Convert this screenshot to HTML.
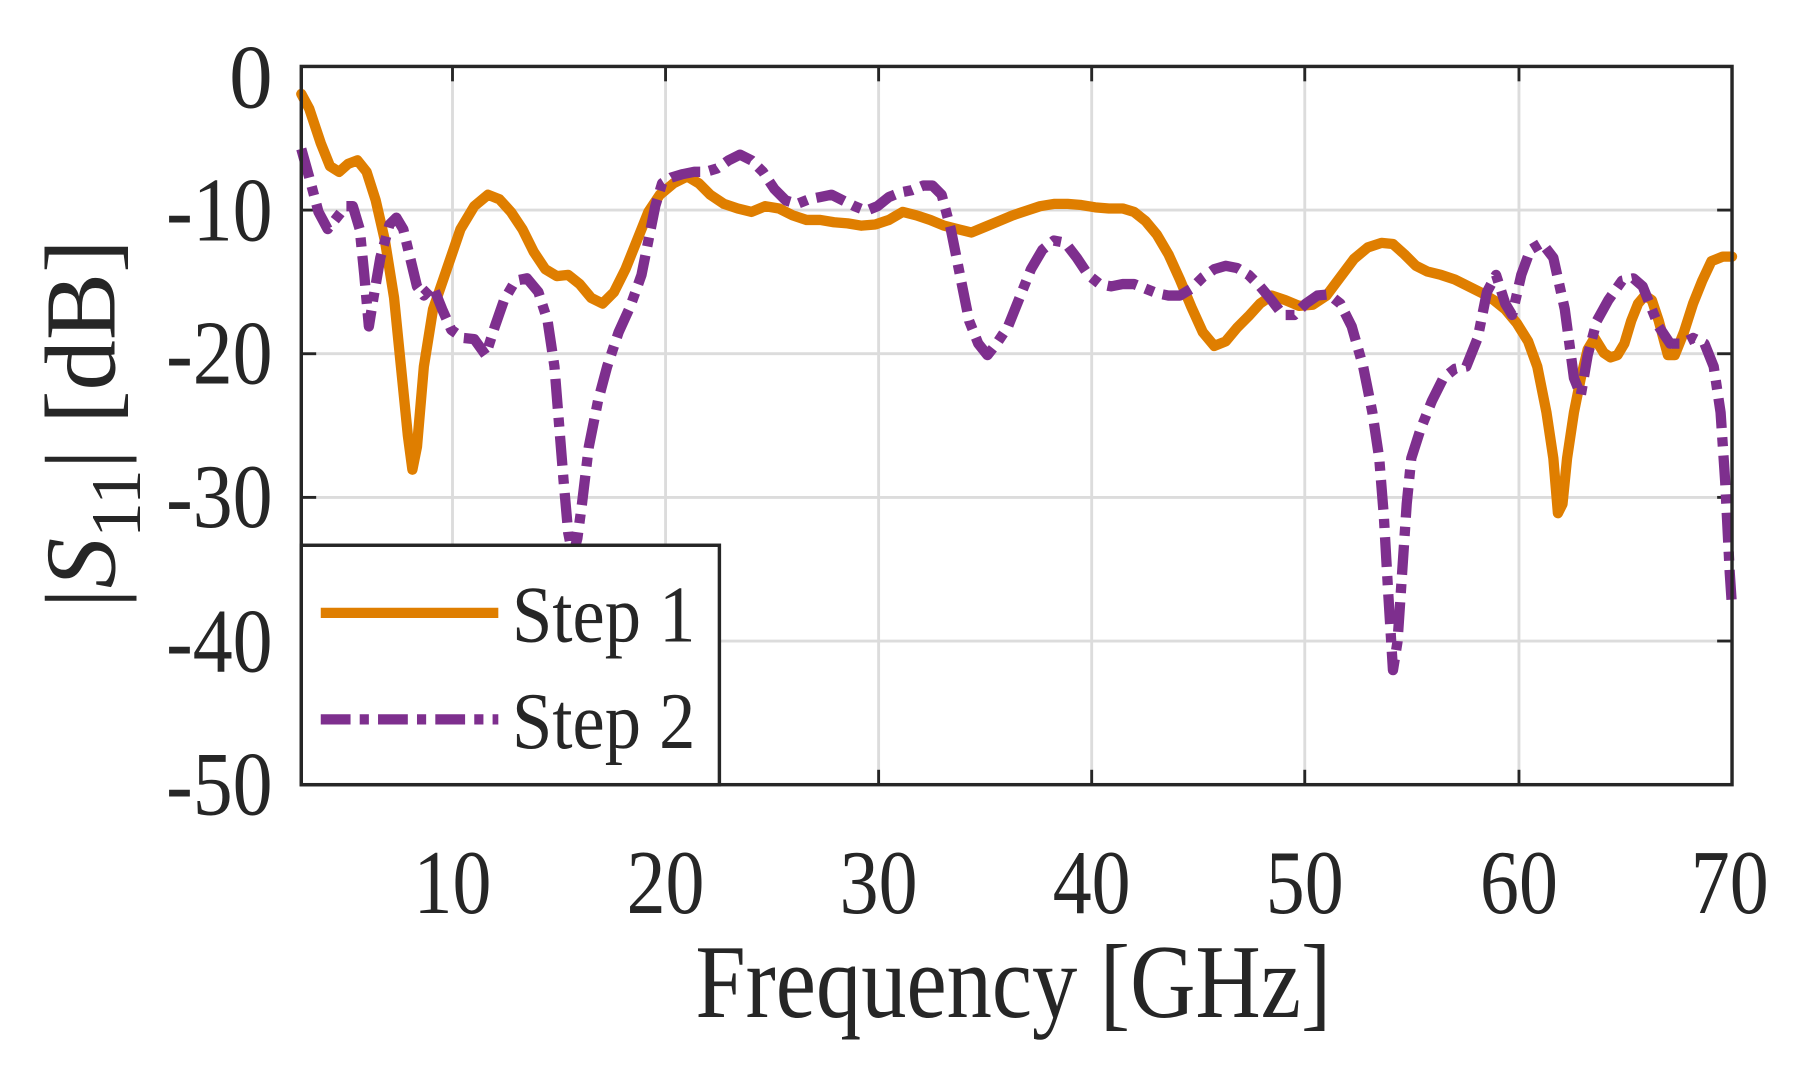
<!DOCTYPE html>
<html><head><meta charset="utf-8"><style>html,body{margin:0;padding:0;background:#fff}svg{display:block}</style></head>
<body>
<svg width="1797" height="1073" viewBox="0 0 1568.7 936.7" xmlns="http://www.w3.org/2000/svg">
<rect width="1568.7" height="936.7" fill="#fff"/>
<g stroke="#dcdcdc" stroke-width="2.5">
<line x1="395" y1="58" x2="395" y2="685"/><line x1="581" y1="58" x2="581" y2="685"/><line x1="767" y1="58" x2="767" y2="685"/><line x1="953" y1="58" x2="953" y2="685"/><line x1="1139" y1="58" x2="1139" y2="685"/><line x1="1326" y1="58" x2="1326" y2="685"/>
<line x1="263" y1="183.4" x2="1512" y2="183.4"/><line x1="263" y1="308.8" x2="1512" y2="308.8"/><line x1="263" y1="434.2" x2="1512" y2="434.2"/><line x1="263" y1="559.6" x2="1512" y2="559.6"/>
</g>
<g stroke="#262626" stroke-width="2.5">
<line x1="395" y1="685" x2="395" y2="672"/><line x1="581" y1="685" x2="581" y2="672"/><line x1="767" y1="685" x2="767" y2="672"/><line x1="953" y1="685" x2="953" y2="672"/><line x1="1139" y1="685" x2="1139" y2="672"/><line x1="1326" y1="685" x2="1326" y2="672"/>
<line x1="395" y1="58" x2="395" y2="71"/><line x1="581" y1="58" x2="581" y2="71"/><line x1="767" y1="58" x2="767" y2="71"/><line x1="953" y1="58" x2="953" y2="71"/><line x1="1139" y1="58" x2="1139" y2="71"/><line x1="1326" y1="58" x2="1326" y2="71"/>
<line x1="263" y1="183.4" x2="276" y2="183.4"/><line x1="263" y1="308.8" x2="276" y2="308.8"/><line x1="263" y1="434.2" x2="276" y2="434.2"/><line x1="263" y1="559.6" x2="276" y2="559.6"/>
<line x1="1512" y1="183.4" x2="1499" y2="183.4"/><line x1="1512" y1="308.8" x2="1499" y2="308.8"/><line x1="1512" y1="434.2" x2="1499" y2="434.2"/><line x1="1512" y1="559.6" x2="1499" y2="559.6"/>
</g>
<polyline fill="none" stroke="#df7e00" stroke-width="9" stroke-linejoin="round" stroke-linecap="round" points="263,82 270,95 280,125 288,145 296,150 304,143 312,140 320,150 328,175 336,210 344,260 350,320 356,380 360,410 364,390 370,320 378,270 390,235 402,200 414,180 426,170 436,174 446,185 456,200 466,220 476,235 486,241 496,240 506,248 516,260 526,265 536,255 546,235 556,210 566,185 576,170 588,160 600,154 610,160 620,170 632,178 644,182 656,185 668,180 680,182 692,188 704,192 716,192 728,194 740,195 752,197 764,196 776,192 788,185 800,188 812,192 824,197 836,200 848,203 860,198 872,193 884,188 896,184 908,180 920,178 932,178 944,179 956,181 968,182 980,182 990,185 1000,193 1010,205 1020,222 1030,244 1040,268 1050,290 1060,302 1070,298 1080,286 1090,276 1100,265 1110,258 1122,262 1134,267 1146,266 1158,258 1170,242 1182,226 1194,216 1206,212 1216,213 1226,222 1236,232 1246,237 1258,240 1270,244 1282,250 1294,256 1304,262 1314,270 1324,282 1334,298 1342,320 1350,360 1356,400 1360,448 1364,440 1368,400 1374,360 1380,330 1386,305 1392,295 1400,308 1406,312 1412,310 1418,300 1424,280 1430,265 1436,258 1442,262 1448,280 1456,310 1462,310 1470,290 1478,265 1486,245 1494,228 1504,224 1512,224"/>
<polyline fill="none" stroke="#7e2f8e" stroke-width="9" stroke-dasharray="26 8 8 8" stroke-linejoin="round" points="263,130 270,155 278,185 286,200 294,190 302,180 308,180 314,200 318,240 322,285 326,260 332,225 340,196 346,190 352,200 358,225 364,250 370,258 378,250 386,270 394,288 404,295 414,296 424,310 432,285 440,262 450,245 460,243 470,255 478,280 484,320 488,370 492,420 496,465 500,485 504,470 508,440 514,390 522,350 530,320 540,290 550,268 560,240 566,210 572,180 578,160 586,155 596,152 606,150 616,150 626,147 636,140 646,135 656,140 666,150 676,165 686,175 696,178 706,174 716,172 726,170 736,175 746,180 756,184 766,180 776,172 786,168 796,166 806,162 814,162 822,170 830,200 838,240 846,280 854,300 862,310 870,300 880,285 890,260 900,235 910,218 920,210 930,212 940,225 950,240 960,248 970,250 980,248 990,248 1000,252 1010,256 1020,258 1030,258 1040,252 1050,242 1060,235 1070,232 1080,234 1090,240 1100,250 1110,262 1120,275 1130,275 1140,265 1150,258 1160,257 1170,265 1180,285 1190,320 1198,360 1204,400 1208,450 1212,520 1216,585 1220,560 1224,500 1228,440 1232,400 1240,375 1250,350 1260,330 1270,322 1280,320 1290,295 1298,255 1306,240 1314,265 1320,275 1328,240 1336,218 1346,212 1356,225 1366,270 1374,330 1380,345 1386,310 1394,280 1404,262 1416,245 1426,243 1434,250 1440,265 1448,285 1458,300 1468,300 1478,295 1488,300 1496,320 1502,360 1506,420 1510,500 1512,530"/>
<rect x="263" y="58" width="1249" height="627" fill="none" stroke="#262626" stroke-width="3"/>
<rect x="263" y="476" width="365" height="209" fill="#fff" stroke="#262626" stroke-width="3"/>
<line x1="280" y1="535" x2="435" y2="535" stroke="#df7e00" stroke-width="9"/>
<line x1="280" y1="628" x2="435" y2="628" stroke="#7e2f8e" stroke-width="9" stroke-dasharray="26 8 8 8"/>
<g font-family="Liberation Serif, serif" fill="#262626">
<text x="447" y="560" font-size="70" textLength="160" lengthAdjust="spacingAndGlyphs">Step 1</text>
<text x="447" y="653" font-size="70" textLength="160" lengthAdjust="spacingAndGlyphs">Step 2</text>
<g font-size="80">
<text x="200" y="94" textLength="38" lengthAdjust="spacingAndGlyphs">0</text>
<text x="145" y="210" textLength="93" lengthAdjust="spacingAndGlyphs">-10</text>
<text x="145" y="335" textLength="93" lengthAdjust="spacingAndGlyphs">-20</text>
<text x="145" y="460" textLength="93" lengthAdjust="spacingAndGlyphs">-30</text>
<text x="145" y="586" textLength="93" lengthAdjust="spacingAndGlyphs">-40</text>
<text x="145" y="711" textLength="93" lengthAdjust="spacingAndGlyphs">-50</text>
<text x="361" y="797" textLength="68" lengthAdjust="spacingAndGlyphs">10</text>
<text x="547" y="797" textLength="68" lengthAdjust="spacingAndGlyphs">20</text>
<text x="733" y="797" textLength="68" lengthAdjust="spacingAndGlyphs">30</text>
<text x="919" y="797" textLength="68" lengthAdjust="spacingAndGlyphs">40</text>
<text x="1105" y="797" textLength="68" lengthAdjust="spacingAndGlyphs">50</text>
<text x="1292" y="797" textLength="68" lengthAdjust="spacingAndGlyphs">60</text>
<text x="1476" y="797" textLength="68" lengthAdjust="spacingAndGlyphs">70</text>
</g>
<text x="607" y="888" font-size="92" textLength="555" lengthAdjust="spacingAndGlyphs">Frequency [GHz]</text>
<text transform="translate(100,370) rotate(-90)" font-size="88" text-anchor="middle">|<tspan font-style="italic">S</tspan><tspan font-size="62" dy="22">11</tspan><tspan dy="-22">| [dB]</tspan></text>
</g>
</svg>
</body></html>
